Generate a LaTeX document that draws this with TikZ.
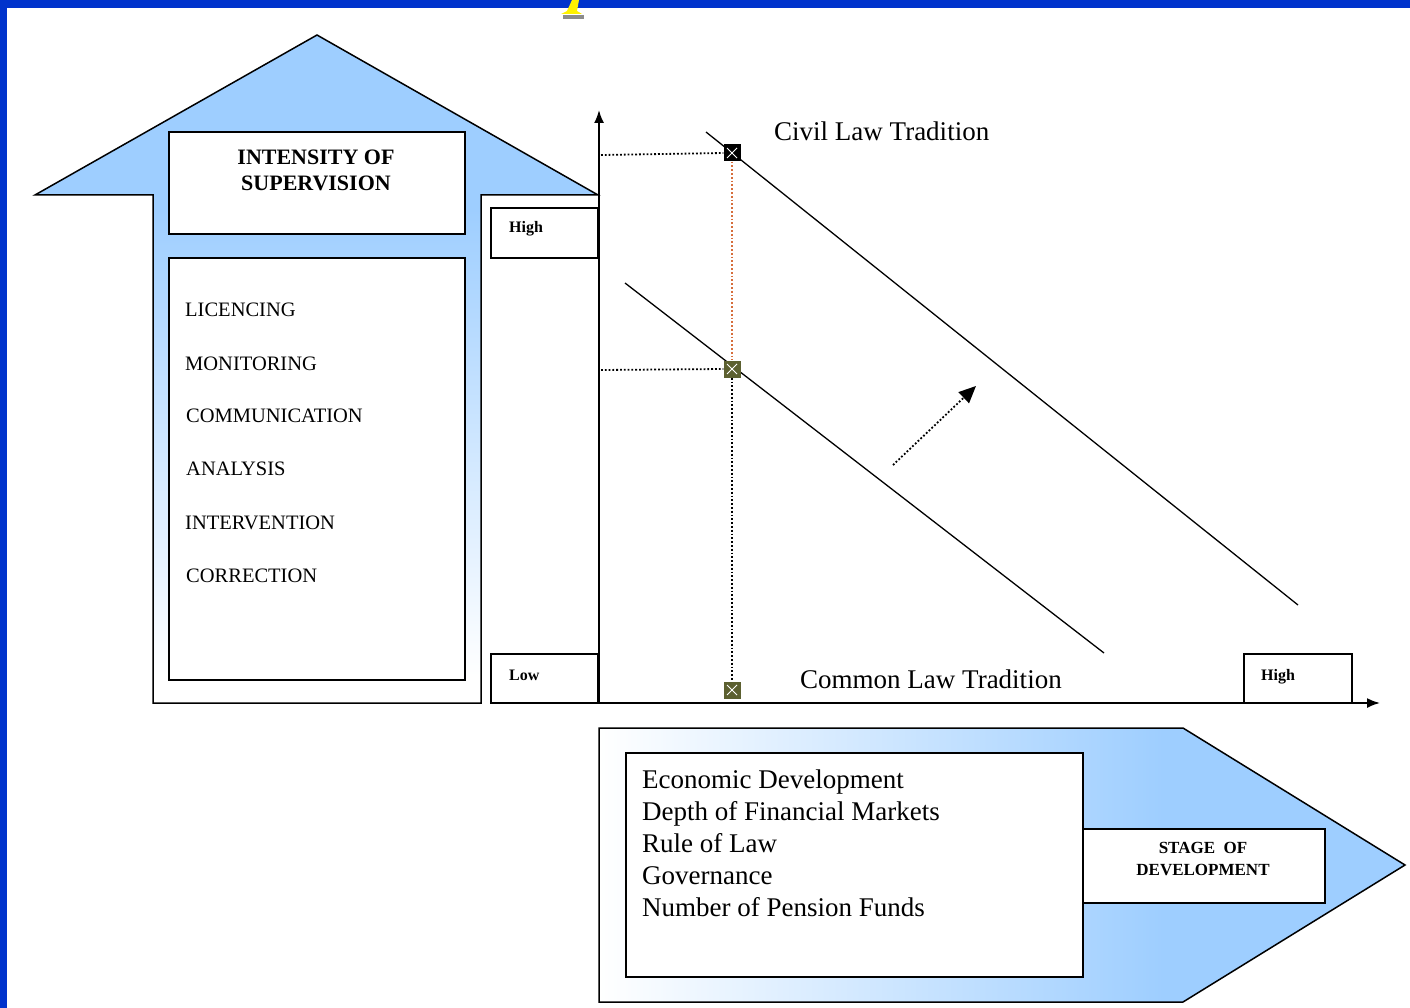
\documentclass[tikz,border=0pt]{standalone}
\usepackage{fontspec}
\setmainfont{Liberation Serif}
\usetikzlibrary{arrows.meta}
\definecolor{lb}{RGB}{158,206,255}
\definecolor{frameblue}{RGB}{0,51,204}
\definecolor{markolive}{RGB}{92,96,48}
\definecolor{dotorange}{RGB}{214,110,60}
\pgfdeclareverticalshading{vshade}{100bp}{color(0bp)=(white); color(27bp)=(white); color(62bp)=(lb); color(100bp)=(lb)}
\pgfdeclarehorizontalshading{hshade}{100bp}{color(0bp)=(white); color(25bp)=(white); color(60bp)=(lb); color(100bp)=(lb)}
\begin{document}
\begin{tikzpicture}[x=1pt,y=-1pt,
  box/.style={draw=black, line width=1.8pt, fill=white},
  outline/.style={draw=black, line width=1.5pt},
  marker/.style={rectangle, minimum size=17pt, inner sep=0pt},
  txt/.style={inner sep=0pt, font=\fontsize{27}{32}\selectfont},
  item/.style={inner sep=0pt, anchor=base west, font=\fontsize{20.5}{24}\selectfont},
  head/.style={inner sep=0pt, anchor=base, font=\bfseries\fontsize{22}{26}\selectfont},
  small/.style={inner sep=0pt, anchor=base west, font=\bfseries\fontsize{16}{18}\selectfont},
  stage/.style={inner sep=0pt, anchor=base, font=\bfseries\fontsize{17}{20}\selectfont},
  axis/.style={line width=1.8pt, -{Latex[length=13pt,width=10pt]}},
  dots/.style={dotted, line width=1.8pt}]
\useasboundingbox (0,0) rectangle (1410,1008);
\fill[white] (0,0) rectangle (1410,1008);
\fill[frameblue] (0,0) rectangle (1410,8);
\fill[frameblue] (0,0) rectangle (7,1008);
% yellow fragment of a cut-off title
\fill[black!75, opacity=0.6] (563,15) rectangle (584,19);
\fill[yellow] (572,0) -- (579,0) -- (577,11) -- (582,14) -- (561,14) -- (567,11) -- cycle;

% up arrow
\shade[shading=vshade, outline] (153,703) -- (153,195) -- (35,195) -- (317,35) -- (598,195) -- (481,195) -- (481,703) -- cycle;
\draw[box] (169,132) rectangle (465,234);
\draw[box] (169,258) rectangle (465,680);
\node[head] (t1) at (316,165) {INTENSITY OF};
\node[head] (t2) at (316,191) {SUPERVISION};
\node[item] (i1) at (185,316) {LICENCING};
\node[item] (i2) at (185,370) {MONITORING};
\node[item] (i3) at (186,422) {COMMUNICATION};
\node[item] (i4) at (186,475) {ANALYSIS};
\node[item] (i5) at (185,529) {INTERVENTION};
\node[item] (i6) at (186,582) {CORRECTION};

% small boxes
\draw[box] (491,208) rectangle (598,258);
\draw[box] (491,654) rectangle (598,703);
\draw[box] (1244,654) rectangle (1352,703);
\node[small] (hi1) at (509,233) {High};
\node[small] (lo) at (509,680) {Low};
\node[small] (hi2) at (1261,680) {High};

% bottom arrow
\shade[shading=hshade, outline] (599,728) -- (1183,728) -- (1405,865) -- (1183,1002) -- (599,1002) -- cycle;
\draw[box] (626,753) rectangle (1083,977);
\draw[box] (1083,829) rectangle (1325,903);
\node[txt, anchor=base west] (b1) at (642,788) {Economic Development};
\node[txt, anchor=base west] (b2) at (642,820) {Depth of Financial Markets};
\node[txt, anchor=base west] (b3) at (642,852) {Rule of Law};
\node[txt, anchor=base west] (b4) at (642,884) {Governance};
\node[txt, anchor=base west] (b5) at (642,916) {Number of Pension Funds};
\node[stage] (s1) at (1203,853) {STAGE\ \ OF};
\node[stage] (s2) at (1203,875) {DEVELOPMENT};

% axes
\coordinate (O) at (599,703);
\coordinate (ytop) at (599,110);
\coordinate (xl) at (491,703);
\coordinate (xr) at (1380,703);
\draw[axis] (O) -- (ytop);
\draw[axis] (xl) -- (xr);

% tradition lines
\coordinate (c1) at (706,132);
\coordinate (c2) at (1298,605);
\coordinate (k1) at (625,283);
\coordinate (k2) at (1104,653);
\draw[line width=1.3pt] (c1) -- (c2);
\draw[line width=1.3pt] (k1) -- (k2);
\node[txt, anchor=base west] (civ) at (774,141) {Civil Law Tradition};
\node[txt, anchor=base west] (com) at (800,688) {Common Law Tradition};

% markers
\node[marker, fill=black] (m1) at (732,153) {};
\node[marker, fill=markolive] (m2) at (732,369) {};
\node[marker, fill=markolive] (m3) at (732,690) {};
\foreach \m in {m1,m2,m3}{
  \draw[white, line width=1pt] (\m.center) +(-5,-5) -- +(5,5);
  \draw[white, line width=1pt] (\m.center) +(-5,5) -- +(5,-5);
}

% dotted guides
\coordinate (h1) at (601,155);
\coordinate (h2) at (601,370);
\draw[dots] (h1) -- (m1.west);
\draw[dots] (h2) -- (m2.west);
\draw[dots, dotorange] (m1.south) -- (m2.north);
\draw[dots] (m2.south) -- (m3.north);

% shift arrow
\coordinate (da1) at (893,465);
\coordinate (da2) at (976,386);
\draw[dots, -{Triangle[length=17pt,width=15pt]}] (da1) -- (da2);
\end{tikzpicture}
\end{document}
